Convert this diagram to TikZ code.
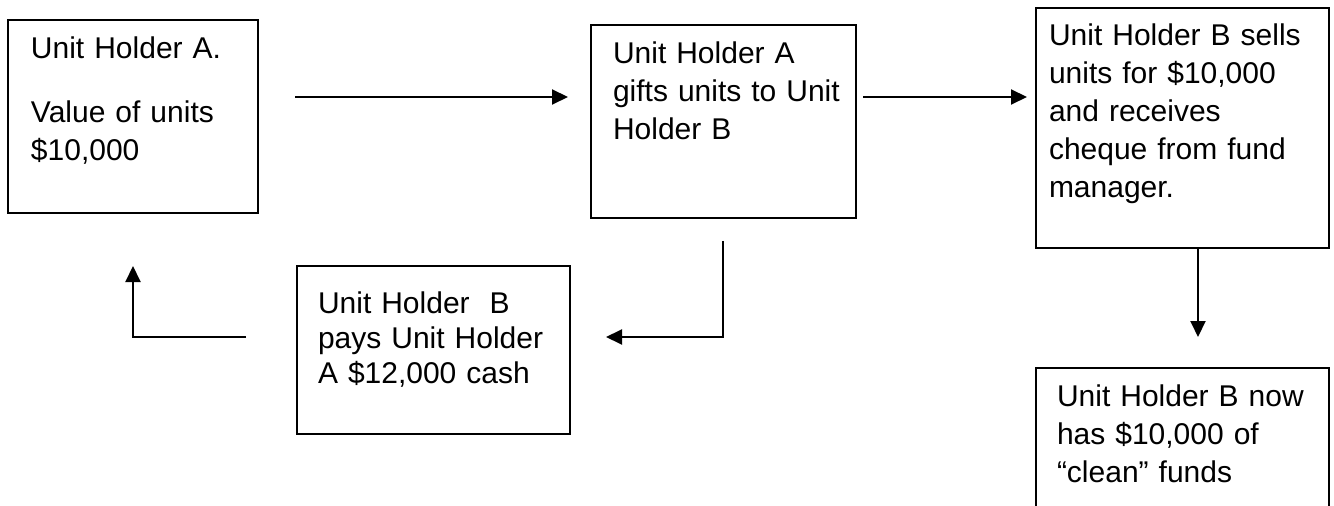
\documentclass[tikz,border=0pt]{standalone}
\usepackage{fontspec}
\setmainfont{Liberation Sans}
\usetikzlibrary{arrows.meta}
\newdimen\px
\px=0.4pt

\begin{document}
\begin{tikzpicture}[x=0.4pt, y=-0.4pt, line width=0.8pt,
    font=\fontsize{12pt}{15.2pt}\selectfont,
    holder/.style n args={4}{draw, anchor=north west, inner sep=0pt, align=left,
        text width=#1*\px, text height=#3*\px, text depth=(#2-#3)*\px,
        execute at begin node={\leftskip=#4\px}},
    flow/.style={-{Triangle[length=6.4pt, width=6pt]}}]
    \useasboundingbox (0,0) rectangle (1334,506);

    \node[holder={250}{193}{39}{23}] (hold) at (7,19) {Unit Holder A.\\[26\px]Value of units\\\$10,000};
    \node[holder={265}{193}{39}{22}] (gift) at (590,24) {Unit Holder A\\gifts units to Unit\\Holder B};
    \node[holder={293}{240}{38}{13}] (sell) at (1035,7) {Unit Holder B sells\\units for \$10,000\\and receives\\cheque from fund\\manager.};
    \node[holder={273}{168}{47}{21}, font=\fontsize{12pt}{14pt}\selectfont] (pay) at (296,265) {Unit Holder\ \ B\\pays Unit Holder\\A \$12,000 cash};
    \node[holder={293}{170}{38}{21}] (clean) at (1035,367) {Unit Holder B now\\has \$10,000 of\\“clean” funds};

    \coordinate (a1) at (295,97);  \coordinate (a2) at (568,97);
    \coordinate (b1) at (863,97);  \coordinate (b2) at (1027,97);
    \coordinate (c2) at (1198,337);
    \coordinate (d1) at (723,241); \coordinate (d2) at (606,337);
    \coordinate (e1) at (246,337); \coordinate (e2) at (133,266);

    \draw[flow] (a1) -- (a2);
    \draw[flow] (b1) -- (b2);
    \draw[flow] (sell.south -| c2) -- (c2);
    \draw[flow] (d1) |- (d2);
    \draw[flow] (e1) -| (e2);
\end{tikzpicture}
\end{document}
